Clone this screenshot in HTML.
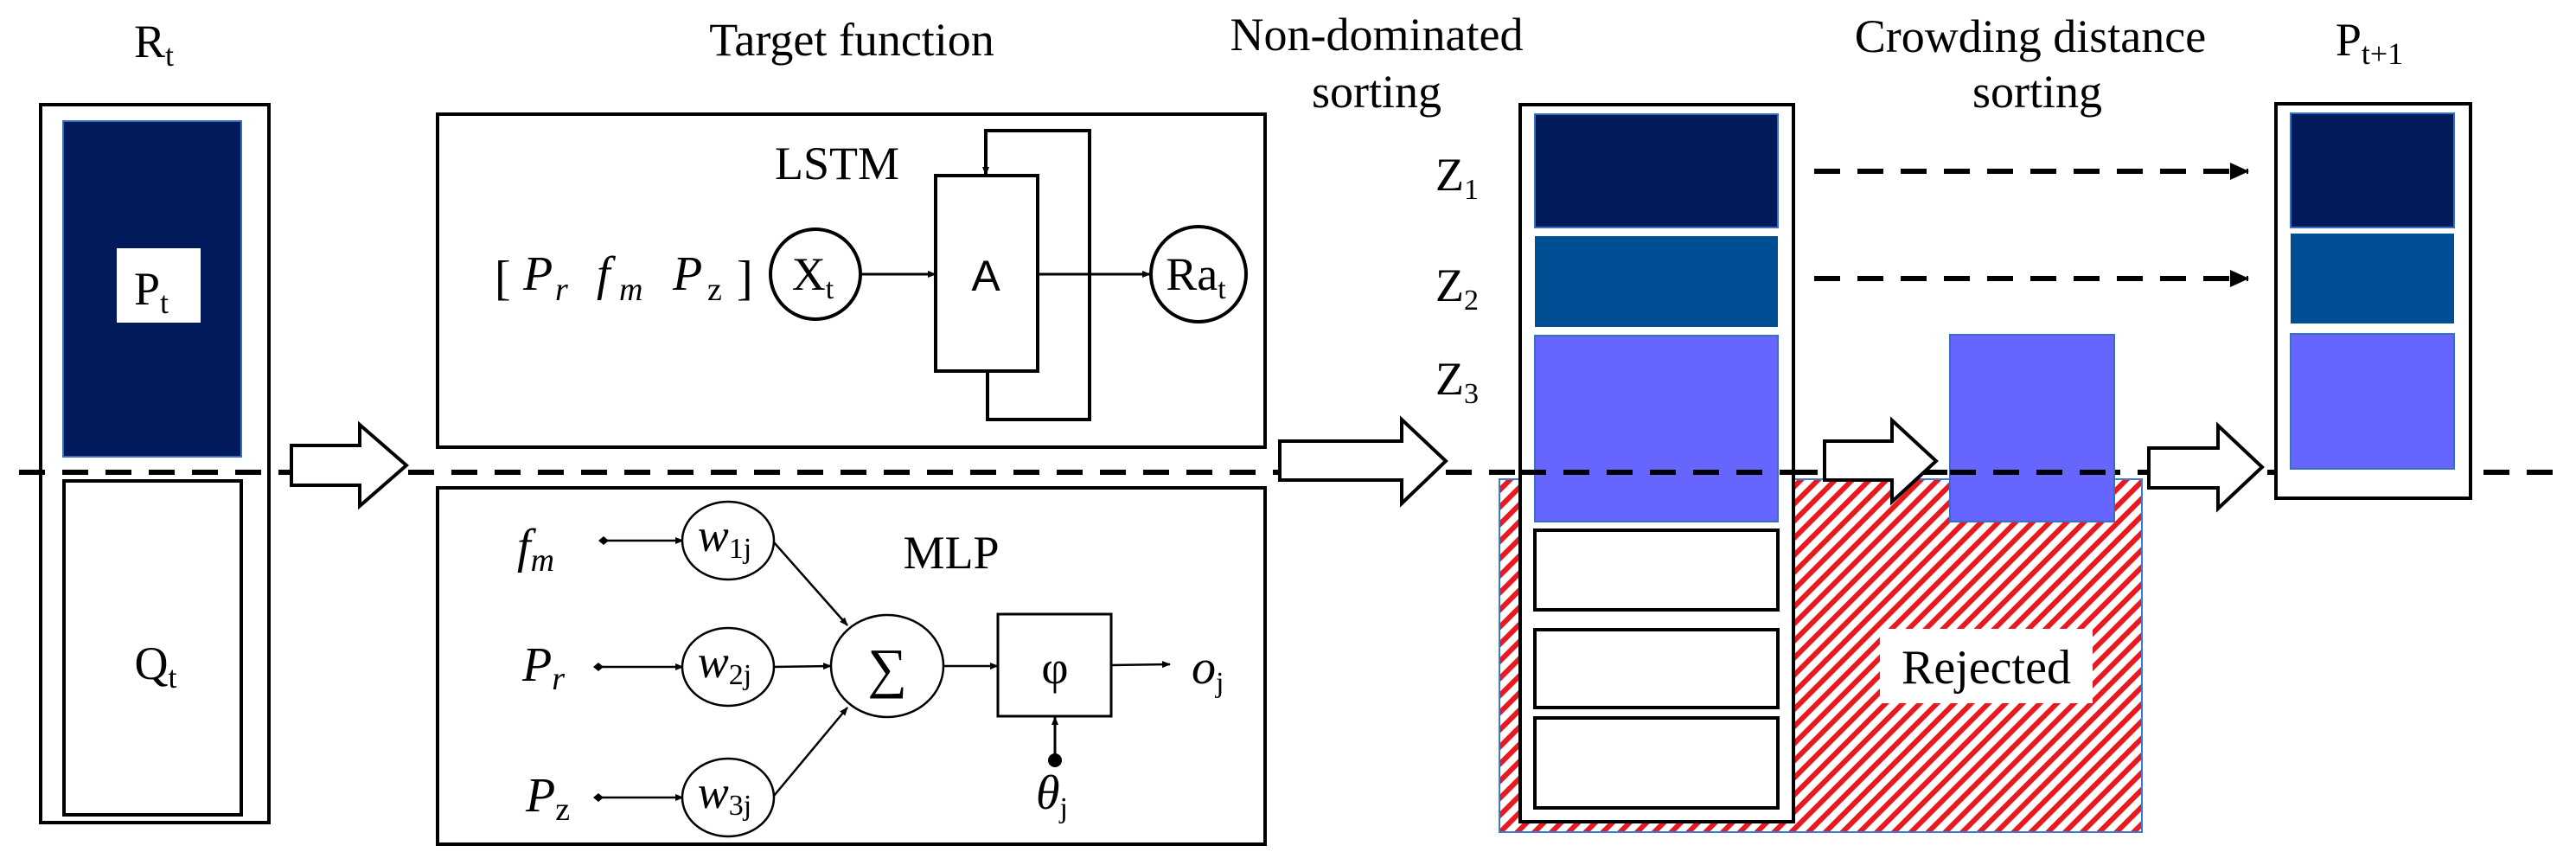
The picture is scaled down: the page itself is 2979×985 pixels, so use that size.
<!DOCTYPE html>
<html><head><meta charset="utf-8"><style>
html,body{margin:0;padding:0;background:#fff;}
svg{display:block;}
svg text{font-family:"Liberation Serif","Times New Roman",serif !important;fill:#000;}
svg text.sans{font-family:"Liberation Sans",sans-serif !important;}
</style></head><body>
<svg width="2979" height="985" viewBox="0 0 2979 985" xmlns="http://www.w3.org/2000/svg" font-family="Liberation Serif, serif">
<defs>
<pattern id="hatch" width="14" height="14" patternUnits="userSpaceOnUse" patternTransform="rotate(45)">
<rect width="14" height="14" fill="#fff"/>
<rect x="0" y="0" width="6" height="14" fill="#e8191f"/>
</pattern>
<marker id="ah" markerWidth="10" markerHeight="10" refX="9" refY="5" orient="auto" markerUnits="userSpaceOnUse" viewBox="0 0 10 10">
<path d="M0,1 L10,5 L0,9 z" fill="#000"/>
</marker>
<marker id="ah2" markerWidth="22" markerHeight="20" refX="21" refY="10" orient="auto" markerUnits="userSpaceOnUse" viewBox="0 0 22 20">
<path d="M0,0 L22,10 L0,20 z" fill="#000"/>
</marker>
<marker id="dia" markerWidth="12" markerHeight="12" refX="6" refY="6" orient="auto" markerUnits="userSpaceOnUse" viewBox="0 0 12 12">
<path d="M0,6 L6,1 L12,6 L6,11 z" fill="#000"/>
</marker>
</defs>

<rect x="1734" y="554" width="743" height="408" fill="url(#hatch)" stroke="#3a7ad0" stroke-width="2"/>

<text x="178" y="66" font-size="54" text-anchor="middle">R<tspan font-size="36" dy="10">t</tspan></text>
<text x="985" y="64" font-size="54" text-anchor="middle">Target function</text>
<text x="1592" y="58" font-size="54" text-anchor="middle">Non-dominated</text>
<text x="1592" y="124" font-size="54" text-anchor="middle">sorting</text>
<text x="2348" y="60" font-size="54" text-anchor="middle">Crowding distance</text>
<text x="2356" y="124" font-size="54" text-anchor="middle">sorting</text>
<text x="2740" y="64" font-size="54" text-anchor="middle">P<tspan font-size="36" dy="10">t+1</tspan></text>

<rect x="47" y="121" width="264" height="830" fill="#fff" stroke="#000" stroke-width="4"/>
<rect x="73" y="140" width="206" height="388" fill="#001a5c" stroke="#3a6fc0" stroke-width="2"/>
<rect x="135" y="287" width="97" height="86" fill="#fff"/>
<text x="175" y="352" font-size="54" text-anchor="middle">P<tspan font-size="36" dy="10">t</tspan></text>
<rect x="74" y="556" width="205" height="386" fill="#fff" stroke="#000" stroke-width="4"/>
<text x="180" y="785" font-size="54" text-anchor="middle">Q<tspan font-size="36" dy="10">t</tspan></text>

<rect x="506" y="132" width="957" height="385" fill="#fff" stroke="#000" stroke-width="4"/>
<text x="968" y="207" font-size="54" text-anchor="middle">LSTM</text>
<text x="572" y="340" font-size="56">[</text>
<text x="605" y="335" font-size="56" font-style="italic">P</text>
<text x="642" y="347" font-size="38" font-style="italic">r</text>
<text x="690" y="335" font-size="56" font-style="italic">f</text>
<text x="716" y="347" font-size="38" font-style="italic">m</text>
<text x="778" y="335" font-size="56" font-style="italic">P</text>
<text x="818" y="347" font-size="38">z</text>
<text x="852" y="340" font-size="56">]</text>
<circle cx="943" cy="317" r="52" fill="#fff" stroke="#000" stroke-width="4"/>
<text x="940" y="335" font-size="54" text-anchor="middle">X<tspan font-size="34" dy="10">t</tspan></text>
<line x1="995" y1="317" x2="1082" y2="317" stroke="#000" stroke-width="3" marker-end="url(#ah)"/>
<rect x="1082" y="203" width="118" height="226" fill="#fff" stroke="#000" stroke-width="4"/>
<text x="1140" y="336" font-size="50" text-anchor="middle" class="sans">A</text>
<polyline points="1142,429 1142,485 1260,485 1260,151 1140,151 1140,202" fill="none" stroke="#000" stroke-width="4" marker-end="url(#ah)"/>
<line x1="1200" y1="317" x2="1330" y2="317" stroke="#000" stroke-width="3" marker-end="url(#ah)"/>
<circle cx="1386" cy="317" r="55" fill="#fff" stroke="#000" stroke-width="4"/>
<text x="1383" y="335" font-size="54" text-anchor="middle">Ra<tspan font-size="34" dy="10">t</tspan></text>

<rect x="506" y="564" width="957" height="412" fill="#fff" stroke="#000" stroke-width="4"/>
<text x="1100" y="657" font-size="54" text-anchor="middle">MLP</text>
<text x="598" y="650" font-size="56" font-style="italic">f<tspan font-size="38" dy="10">m</tspan></text>
<text x="604" y="787" font-size="56" font-style="italic">P<tspan font-size="38" dy="10">r</tspan></text>
<text x="608" y="938" font-size="56" font-style="italic">P<tspan font-style="normal" font-size="38" dy="10">z</tspan></text>
<line x1="698" y1="625" x2="790" y2="625" stroke="#000" stroke-width="2.5" marker-start="url(#dia)" marker-end="url(#ah)"/>
<line x1="692" y1="771" x2="790" y2="771" stroke="#000" stroke-width="2.5" marker-start="url(#dia)" marker-end="url(#ah)"/>
<line x1="692" y1="922" x2="790" y2="922" stroke="#000" stroke-width="2.5" marker-start="url(#dia)" marker-end="url(#ah)"/>
<ellipse cx="842" cy="625" rx="53" ry="45" fill="#fff" stroke="#000" stroke-width="2.5"/>
<ellipse cx="842" cy="771" rx="53" ry="45" fill="#fff" stroke="#000" stroke-width="2.5"/>
<ellipse cx="842" cy="922" rx="53" ry="45" fill="#fff" stroke="#000" stroke-width="2.5"/>
<text x="838" y="637" font-size="54" text-anchor="middle"><tspan font-style="italic">w</tspan><tspan font-size="34" dy="8">1j</tspan></text>
<text x="838" y="783" font-size="54" text-anchor="middle"><tspan font-style="italic">w</tspan><tspan font-size="34" dy="8">2j</tspan></text>
<text x="838" y="934" font-size="54" text-anchor="middle"><tspan font-style="italic">w</tspan><tspan font-size="34" dy="8">3j</tspan></text>
<line x1="895" y1="627" x2="980" y2="723" stroke="#000" stroke-width="2.5" marker-end="url(#ah)"/>
<line x1="895" y1="771" x2="961" y2="770" stroke="#000" stroke-width="2.5" marker-end="url(#ah)"/>
<line x1="895" y1="920" x2="980" y2="818" stroke="#000" stroke-width="2.5" marker-end="url(#ah)"/>
<ellipse cx="1026" cy="770" rx="65" ry="59" fill="#fff" stroke="#000" stroke-width="2.5"/>
<text x="1026" y="794" font-size="64" text-anchor="middle">∑</text>
<line x1="1091" y1="770" x2="1154" y2="770" stroke="#000" stroke-width="2.5" marker-end="url(#ah)"/>
<rect x="1154" y="710" width="131" height="118" fill="#fff" stroke="#000" stroke-width="3"/>
<text x="1220" y="790" font-size="54" text-anchor="middle">φ</text>
<line x1="1285" y1="769" x2="1353" y2="768" stroke="#000" stroke-width="2.5" marker-end="url(#ah)"/>
<text x="1378" y="790" font-size="56"><tspan font-style="italic">o</tspan><tspan font-size="34" dy="10">j</tspan></text>
<circle cx="1220" cy="879" r="8" fill="#000"/>
<line x1="1220" y1="879" x2="1220" y2="829" stroke="#000" stroke-width="3" marker-end="url(#ah)"/>
<text x="1198" y="935" font-size="56"><tspan font-style="italic">θ</tspan><tspan font-size="34" dy="10">j</tspan></text>

<line x1="22" y1="546" x2="2965" y2="546" stroke="#000" stroke-width="6" stroke-dasharray="30,20"/>

<rect x="1758" y="121" width="316" height="829" fill="#fff" stroke="#000" stroke-width="4"/>
<rect x="1775" y="132" width="281" height="131" fill="#001a5c" stroke="#3a6fc0" stroke-width="2"/>
<rect x="1775" y="273" width="281" height="105" fill="#004f94"/>
<rect x="1775" y="388" width="281" height="215" fill="#6666ff" stroke="#3a6fc0" stroke-width="2"/>
<line x1="1758" y1="546" x2="2074" y2="546" stroke="#000" stroke-width="6" stroke-dasharray="30,20"/>
<rect x="1775" y="613" width="281" height="92" fill="#fff" stroke="#000" stroke-width="4"/>
<rect x="1775" y="728" width="281" height="90" fill="#fff" stroke="#000" stroke-width="4"/>
<rect x="1775" y="830" width="281" height="104" fill="#fff" stroke="#000" stroke-width="4"/>
<text x="1660" y="220" font-size="54">Z<tspan font-size="34" dy="10">1</tspan></text>
<text x="1660" y="348" font-size="54">Z<tspan font-size="34" dy="10">2</tspan></text>
<text x="1660" y="456" font-size="54">Z<tspan font-size="34" dy="10">3</tspan></text>

<rect x="2255" y="387" width="190" height="216" fill="#6666ff" stroke="#3a6fc0" stroke-width="2"/>
<line x1="2255" y1="546" x2="2445" y2="546" stroke="#000" stroke-width="6" stroke-dasharray="30,20"/>
<rect x="2174" y="727" width="246" height="86" fill="#fff"/>
<text x="2297" y="790" font-size="56" text-anchor="middle">Rejected</text>

<line x1="2098" y1="198" x2="2600" y2="198" stroke="#000" stroke-width="6" stroke-dasharray="30,20" marker-end="url(#ah2)"/>
<line x1="2098" y1="322" x2="2600" y2="322" stroke="#000" stroke-width="6" stroke-dasharray="30,20" marker-end="url(#ah2)"/>

<rect x="2632" y="120" width="225" height="456" fill="#fff" stroke="#000" stroke-width="4"/>
<rect x="2649" y="131" width="189" height="132" fill="#001a5c" stroke="#3a6fc0" stroke-width="2"/>
<rect x="2649" y="270" width="189" height="104" fill="#004f94"/>
<rect x="2649" y="386" width="189" height="156" fill="#6666ff" stroke="#3a6fc0" stroke-width="2"/>

<polygon points="337,515 416,515 416,491 470,538 416,585 416,561 337,561" fill="#fff" stroke="#000" stroke-width="4"/>
<polygon points="1480,510 1621,510 1621,485 1672,533 1621,582 1621,555 1480,555" fill="#fff" stroke="#000" stroke-width="4"/>
<polygon points="2110,510 2188,510 2188,486 2239,533 2188,580 2188,555 2110,555" fill="#fff" stroke="#000" stroke-width="4"/>
<polygon points="2485,518 2565,518 2565,492 2616,540 2565,588 2565,564 2485,564" fill="#fff" stroke="#000" stroke-width="4"/>
</svg>
</body></html>
